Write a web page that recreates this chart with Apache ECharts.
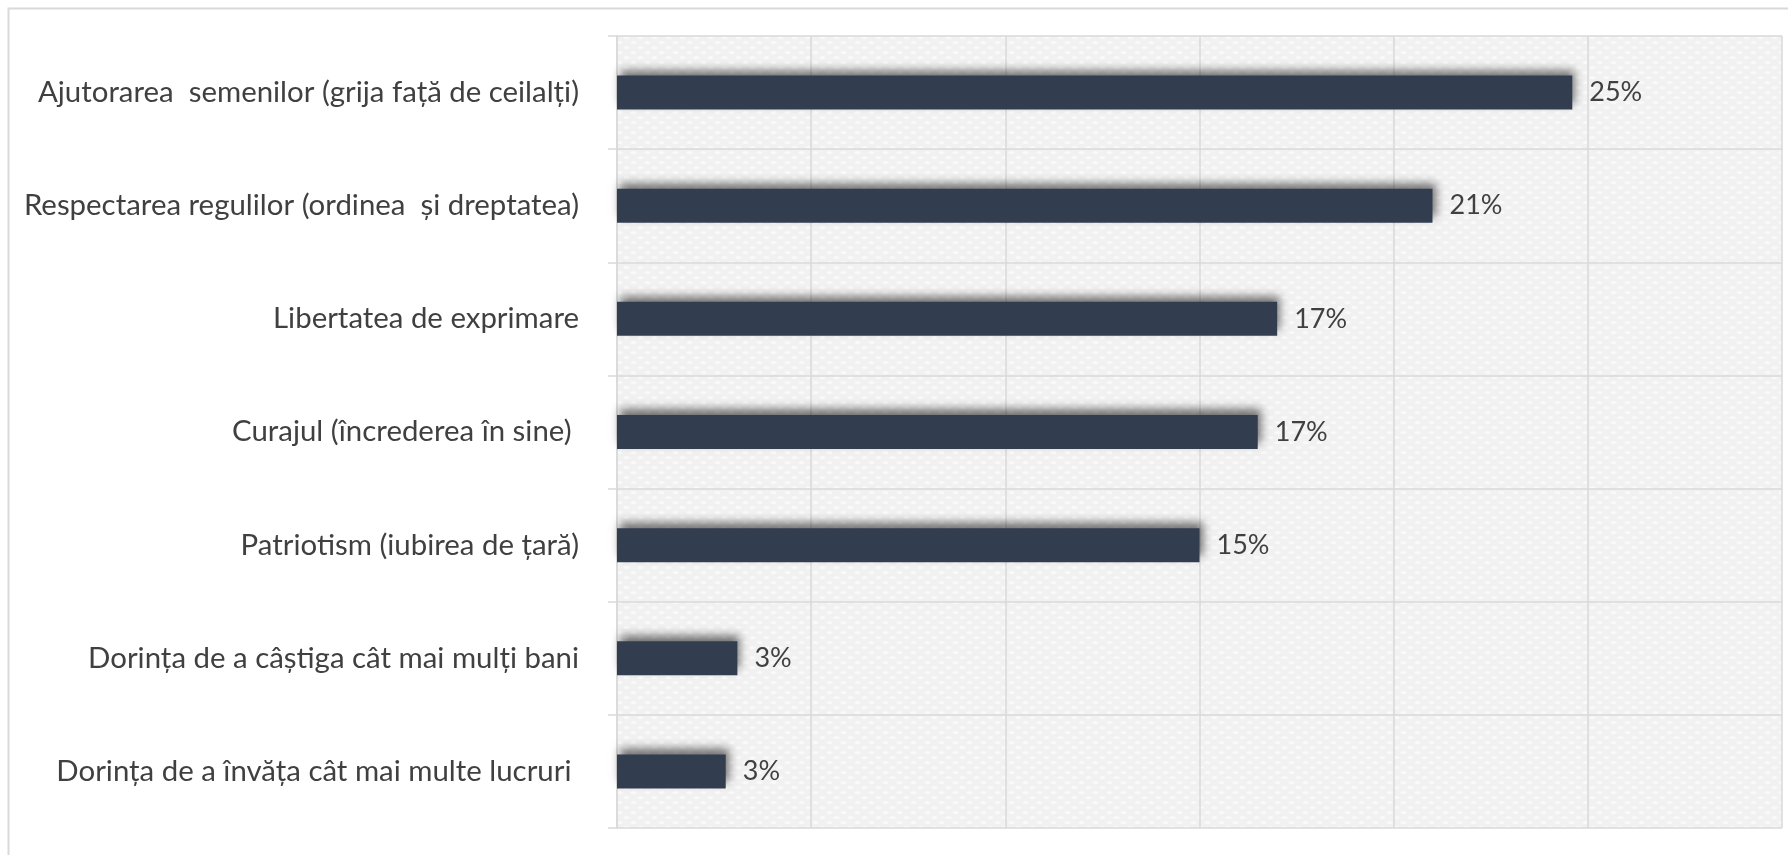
<!DOCTYPE html>
<html>
<head>
<meta charset="utf-8">
<script src="https://cdn.jsdelivr.net/npm/echarts@6/dist/echarts.min.js"></script>
<style>
html,body{margin:0;padding:0;background:#fff;}
#chart{width:1788px;height:855px;}
</style>
</head>
<body>
<div id="chart"></div>
<script>
var categories = [
  "Ajutorarea  semenilor (grija față de ceilalți)",
  "Respectarea regulilor (ordinea  și dreptatea)",
  "Libertatea de exprimare",
  "Curajul (încrederea în sine) ",
  "Patriotism (iubirea de țară)",
  "Dorința de a câștiga cât mai mulți bani",
  "Dorința de a învăța cât mai multe lucruri "
];
var values = [24.6, 21.0, 17.0, 16.5, 15.0, 3.1, 2.8];
var xTicks = [0, 5, 10, 15, 20, 25, 30];

// subtle textured background pattern
var pc = document.createElement('canvas');
pc.width = 14; pc.height = 10;
var g = pc.getContext('2d');
g.fillStyle = '#f1f1f1';
g.fillRect(0, 0, 14, 10);
g.fillStyle = '#f9f9f9';
g.beginPath(); g.ellipse(3.5, 2.5, 3, 1.6, 0, 0, Math.PI * 2); g.fill();
g.beginPath(); g.ellipse(10.5, 7.5, 3, 1.6, 0, 0, Math.PI * 2); g.fill();

var chart = echarts.init(document.getElementById('chart'), null, {renderer: 'canvas'});
var textColor = '#404040';
var lineColor = '#d9d9d9';
var fontFamily = 'Lato, "Open Sans", sans-serif';

chart.setOption({
  animation: false,
  backgroundColor: '#ffffff',
  graphic: [{
    type: 'rect',
    left: 6, top: 6,
    shape: {width: 1800, height: 900},
    style: {fill: 'none', stroke: lineColor, lineWidth: 2},
    silent: true,
    z: -10
  }],
  grid: {
    left: 617, right: 6, top: 36, bottom: 27,
    containLabel: false,
    show: true,
    borderWidth: 0,
    backgroundColor: {image: pc, repeat: 'repeat'}
  },
  xAxis: {
    type: 'value',
    min: xTicks[0],
    max: xTicks[xTicks.length - 1],
    interval: xTicks[1] - xTicks[0],
    axisLabel: {show: false},
    axisLine: {show: false},
    axisTick: {show: false},
    splitLine: {show: true, lineStyle: {color: lineColor, width: 1.5}}
  },
  yAxis: {
    type: 'category',
    data: categories,
    inverse: true,
    axisLine: {show: true, lineStyle: {color: lineColor, width: 1.5}},
    axisTick: {show: true, length: 9, lineStyle: {color: lineColor, width: 1.5}},
    splitLine: {show: true, lineStyle: {color: lineColor, width: 1.5}},
    axisLabel: {
      margin: 38,
      color: textColor,
      fontFamily: fontFamily,
      fontSize: 29.4
    }
  },
  series: [{
    type: 'bar',
    data: values,
    barWidth: 34,
    itemStyle: {
      color: '#333d50',
      shadowColor: 'rgba(0,0,0,0.55)',
      shadowBlur: 9,
      shadowOffsetX: 3,
      shadowOffsetY: -6
    },
    label: {
      show: true,
      position: 'right',
      distance: 17,
      color: textColor,
      fontFamily: fontFamily,
      fontSize: 27,
      formatter: function (p) { return Math.round(p.value) + '%'; }
    }
  }]
});
</script>
</body>
</html>
